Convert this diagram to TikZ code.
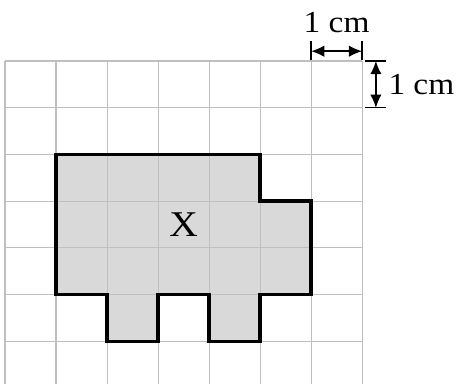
\documentclass[tikz,border=0pt]{standalone}
\usepackage{fontspec}
\setmainfont{Liberation Serif}
\usetikzlibrary{arrows.meta}
\tikzset{
  gridline/.style={line width=0.6pt,draw=black!25},
  shapeline/.style={line width=1.9pt,line join=miter},
  dimarrow/.style={line width=0.8pt,{Latex[length=7.5pt,width=6.5pt]}-{Latex[length=7.5pt,width=6.5pt]}},
  dimtick/.style={line width=0.7pt},
  dimlabel/.style={inner sep=0pt,xscale=1.09,font=\fontsize{17.4}{20}\selectfont}
}
\begin{document}
\begin{tikzpicture}[x=1.02cm,y=0.934cm,line cap=butt]
  \useasboundingbox (-0.098,-6.895) rectangle (8.86,1.306);
  % shaded figure
  \fill[black!15] (1,-2) -- (5,-2) -- (5,-3) -- (6,-3) -- (6,-5) -- (5,-5) -- (5,-6) -- (4,-6)
    -- (4,-5) -- (3,-5) -- (3,-6) -- (2,-6) -- (2,-5) -- (1,-5) -- cycle;
  \foreach \i in {0,...,7}
    \draw[gridline] (\i,-6.92) -- (\i,0);
  \foreach \j in {0,...,6}
    \draw[gridline] (0,-\j) -- (7,-\j);
  \draw[shapeline] (1,-2) -- (5,-2) -- (5,-3) -- (6,-3) -- (6,-5) -- (5,-5) -- (5,-6) -- (4,-6)
    -- (4,-5) -- (3,-5) -- (3,-6) -- (2,-6) -- (2,-5) -- (1,-5) -- cycle;
  \node[inner sep=0pt,xscale=1.09,font=\fontsize{20.6}{24}\selectfont] (xlabel) at (3.5,-3.5) {X};
  % horizontal 1 cm
  \coordinate (hleft) at (6,0.21);
  \coordinate (hright) at (7,0.21);
  \draw[dimtick] (6,0.02) -- (6,0.43);
  \draw[dimtick] (7,0.02) -- (7,0.43);
  \draw[dimarrow] (hleft) -- (hright);
  \node[dimlabel] (hlabel) at (6.5,0.82) {1 cm};
  % vertical 1 cm
  \coordinate (vtop) at (7.27,0);
  \coordinate (vbottom) at (7.27,-1);
  \draw[dimtick] (7.06,0) -- (7.46,0);
  \draw[dimtick] (7.06,-1) -- (7.46,-1);
  \draw[dimarrow] (vtop) -- (vbottom);
  \node[dimlabel,anchor=west] (vlabel) at (7.51,-0.5) {1 cm};
\end{tikzpicture}
\end{document}
